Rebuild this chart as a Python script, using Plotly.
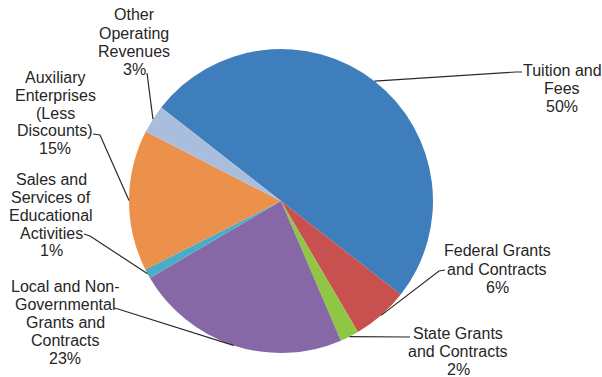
import math
import plotly.graph_objects as go

# Revenue shares by source (percent), listed clockwise from the top-left
sources = [
    "Tuition and<br>Fees",
    "Federal Grants<br>and Contracts",
    "State Grants<br>and Contracts",
    "Local and Non-<br>Governmental<br>Grants and<br>Contracts",
    "Sales and<br>Services of<br>Educational<br>Activities",
    "Auxiliary<br>Enterprises<br>(Less<br>Discounts)",
    "Other<br>Operating<br>Revenues",
]
shares = [50, 6, 2, 23, 1, 15, 3]
colors = ["#3f7ebd", "#c8504e", "#8fc744", "#8768a6", "#4aacc6", "#eb914c", "#a9bedc"]

W, H = 602, 377
CX, CY, R = 281, 201, 152          # pie centre and radius in pixels
START = -52                          # angle (deg, clockwise from 12 o'clock) where the first slice begins

# Label block centres (x, y of first line) and leader-line anchor points near the text
label_pos = [
    (562, 70), (497, 251), (458, 333), (65, 286), (51, 179), (55, 77), (134, 15),
]
leader_from = [
    [(522, 72), (516, 72)],
    [(445, 270), (439, 271)],
    [(410, 337)],
    [(114, 308), (118, 309)],
    [(84, 234), (90, 236)],
    [(93, 134), (100, 135)],
    [(147, 73)],
]
LINE_H = 18
FONT = dict(family="Liberation Sans, Arial, sans-serif", size=16, color="#262626")


def px(x, y):
    return x / W, 1 - y / H


fig = go.Figure(
    go.Pie(
        labels=[s.replace("<br>", " ") for s in sources],
        values=shares,
        sort=False,
        direction="clockwise",
        rotation=START,
        textinfo="none",
        hoverinfo="label+percent",
        marker=dict(colors=colors, line=dict(width=0)),
        domain=dict(x=[(CX - R) / W, (CX + R) / W], y=[(H - CY - R) / H, (H - CY + R) / H]),
        showlegend=False,
    )
)

annotations = []
shapes = []
total = sum(shares)
acc = 0.0
for name, val, (lx, ly), pts in zip(sources, shares, label_pos, leader_from):
    # text lines plus percentage
    lines = name.split("<br>") + [f"{round(100 * val / total)}%"]
    for i, line in enumerate(lines):
        ax, ay = px(lx, ly + i * LINE_H)
        annotations.append(dict(
            x=ax, y=ay, xref="paper", yref="paper", text=line, showarrow=False,
            xanchor="center", yanchor="middle", font=FONT,
        ))
    # leader line to the slice's mid-angle on the rim
    mid = math.radians(START + 360 * (acc + val / 2) / total)
    acc += val
    ex, ey = CX + R * math.sin(mid), CY - R * math.cos(mid)
    path_pts = pts + [(ex, ey)]
    d = ""
    for j, (x, y) in enumerate(path_pts):
        u, v = px(x, y)
        d += ("M" if j == 0 else " L") + f"{u:.5f},{v:.5f}"
    shapes.append(dict(type="path", path=d, xref="paper", yref="paper",
                       line=dict(color="#2a2a2a", width=1.2)))

fig.update_layout(
    width=W, height=H,
    margin=dict(l=0, r=0, t=0, b=0),
    paper_bgcolor="white", plot_bgcolor="white",
    annotations=annotations, shapes=shapes,
)

fig.write_html("out.html")
